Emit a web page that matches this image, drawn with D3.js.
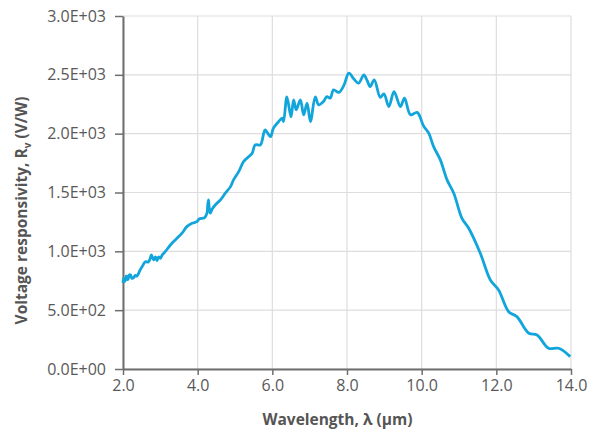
<!DOCTYPE html>
<html>
<head>
<meta charset="utf-8">
<script src="https://cdn.jsdelivr.net/npm/d3@7"></script>
<style>
  body { margin: 0; background: #fff; }
  text { font-family: "Open Sans", sans-serif; }
</style>
</head>
<body>
<div id="chart"></div>
<script>
// wavelength (um) and voltage responsivity (V/W)
var wavelength = [2.00, 2.02, 2.05, 2.09, 2.12, 2.14, 2.17, 2.20, 2.24, 2.28, 2.33, 2.37, 2.41, 2.46, 2.53, 2.60, 2.68, 2.73, 2.76, 2.82, 2.87, 2.91, 2.95, 3.00, 3.05, 3.13, 3.27, 3.40, 3.48, 3.58, 3.71, 3.85, 3.98, 4.04, 4.12, 4.18, 4.25, 4.27, 4.29, 4.31, 4.34, 4.39, 4.47, 4.61, 4.74, 4.88, 4.96, 5.10, 5.23, 5.32, 5.46, 5.54, 5.68, 5.77, 5.81, 5.95, 6.03, 6.17, 6.26, 6.30, 6.39, 6.50, 6.57, 6.64, 6.75, 6.84, 6.93, 7.02, 7.15, 7.24, 7.37, 7.46, 7.55, 7.64, 7.78, 7.91, 8.05, 8.18, 8.31, 8.45, 8.54, 8.62, 8.73, 8.89, 8.99, 9.12, 9.26, 9.43, 9.54, 9.70, 9.88, 10.05, 10.19, 10.32, 10.50, 10.68, 10.86, 11.08, 11.26, 11.57, 11.84, 12.06, 12.33, 12.55, 12.87, 13.09, 13.40, 13.67, 13.98];
var responsivity = [731, 771, 745, 791, 760, 765, 800, 799, 770, 774, 795, 790, 808, 842, 880, 912, 910, 941, 969, 927, 952, 921, 952, 941, 969, 997, 1054, 1097, 1122, 1154, 1210, 1239, 1252, 1275, 1281, 1284, 1324, 1394, 1437, 1369, 1324, 1360, 1394, 1437, 1494, 1550, 1607, 1678, 1763, 1792, 1834, 1905, 1905, 2004, 2032, 1975, 2047, 2103, 2132, 2103, 2313, 2143, 2287, 2202, 2287, 2160, 2259, 2103, 2313, 2245, 2273, 2315, 2302, 2372, 2351, 2406, 2514, 2466, 2429, 2500, 2451, 2400, 2457, 2309, 2338, 2230, 2358, 2230, 2302, 2160, 2181, 2066, 2004, 1890, 1777, 1607, 1494, 1281, 1196, 984, 757, 672, 487, 445, 304, 289, 176, 176, 105];

var xTicks = [2, 4, 6, 8, 10, 12, 14];
var yTicks = [0, 500, 1000, 1500, 2000, 2500, 3000];

var svgWidth = 590, svgHeight = 434;
var margin = {top: 16, right: 19, bottom: 65, left: 123},
    width = svgWidth - margin.left - margin.right,
    height = svgHeight - margin.top - margin.bottom;

var data = wavelength.map(function(w, i) { return {w: w, v: responsivity[i]}; });

var svg = d3.select("#chart").append("svg")
    .attr("width", svgWidth)
    .attr("height", svgHeight)
  .append("g")
    .attr("transform", "translate(" + margin.left + "," + margin.top + ")");

var x = d3.scaleLinear().domain([2, 14]).range([0, width]);
var y = d3.scaleLinear().domain([0, 3000]).range([height, 0]);

// grid
svg.append("g").selectAll("line.gx")
    .data(xTicks).enter().append("line")
    .attr("x1", d => x(d)).attr("x2", d => x(d))
    .attr("y1", 0).attr("y2", height)
    .attr("stroke", "#dddddd").attr("stroke-width", 1.2);
svg.append("g").selectAll("line.gy")
    .data(yTicks).enter().append("line")
    .attr("x1", 0).attr("x2", width)
    .attr("y1", d => y(d)).attr("y2", d => y(d))
    .attr("stroke", "#dddddd").attr("stroke-width", 1.2);

var fmt = function(d) {
  if (d === 0) return "0.0E+00";
  var e = Math.floor(Math.log10(d));
  var m = d / Math.pow(10, e);
  return m.toFixed(1) + "E+" + (e < 10 ? "0" + e : e);
};

var xAxis = svg.append("g")
    .attr("transform", "translate(0," + height + ")")
    .call(d3.axisBottom(x).tickValues(xTicks).tickFormat(d3.format(".1f"))
      .tickSize(6).tickPadding(5).tickSizeOuter(0));
var yAxis = svg.append("g")
    .call(d3.axisLeft(y).tickValues(yTicks).tickFormat(fmt)
      .tickSize(8).tickPadding(9).tickSizeOuter(0));

[xAxis, yAxis].forEach(function(a) {
  a.select(".domain").attr("stroke", "#6e6e6e").attr("stroke-width", 2);
  a.selectAll(".tick line").attr("stroke", "#6e6e6e").attr("stroke-width", 1.5);
  a.selectAll(".tick text").attr("fill", "#595959")
    .style("font-size", "16px").style("font-family", "'Open Sans', sans-serif");
});

// line
var line = d3.line()
    .x(d => x(d.w))
    .y(d => y(d.v))
    .curve(d3.curveCatmullRom.alpha(0.5));

svg.append("path")
    .datum(data)
    .attr("fill", "none")
    .attr("stroke", "#12a5dc")
    .attr("stroke-width", 2.8)
    .attr("stroke-linejoin", "round")
    .attr("d", line);

// axis titles
svg.append("text")
    .attr("x", 214.5)
    .attr("y", 409)
    .attr("text-anchor", "middle")
    .attr("fill", "#555")
    .style("font-size", "15.5px")
    .style("font-weight", "bold")
    .text("Wavelength, λ (μm)");

var yt = svg.append("text")
    .attr("transform", "translate(" + (-96) + "," + 194.5 + ") rotate(-90)")
    .attr("text-anchor", "middle")
    .attr("fill", "#555")
    .style("font-size", "15.5px")
    .style("font-weight", "bold");
yt.append("tspan").text("Voltage responsivity, R");
yt.append("tspan").attr("dy", 4).style("font-size", "10px").text("v");
yt.append("tspan").attr("dy", -4).text(" (V/W)");
</script>
</body>
</html>
